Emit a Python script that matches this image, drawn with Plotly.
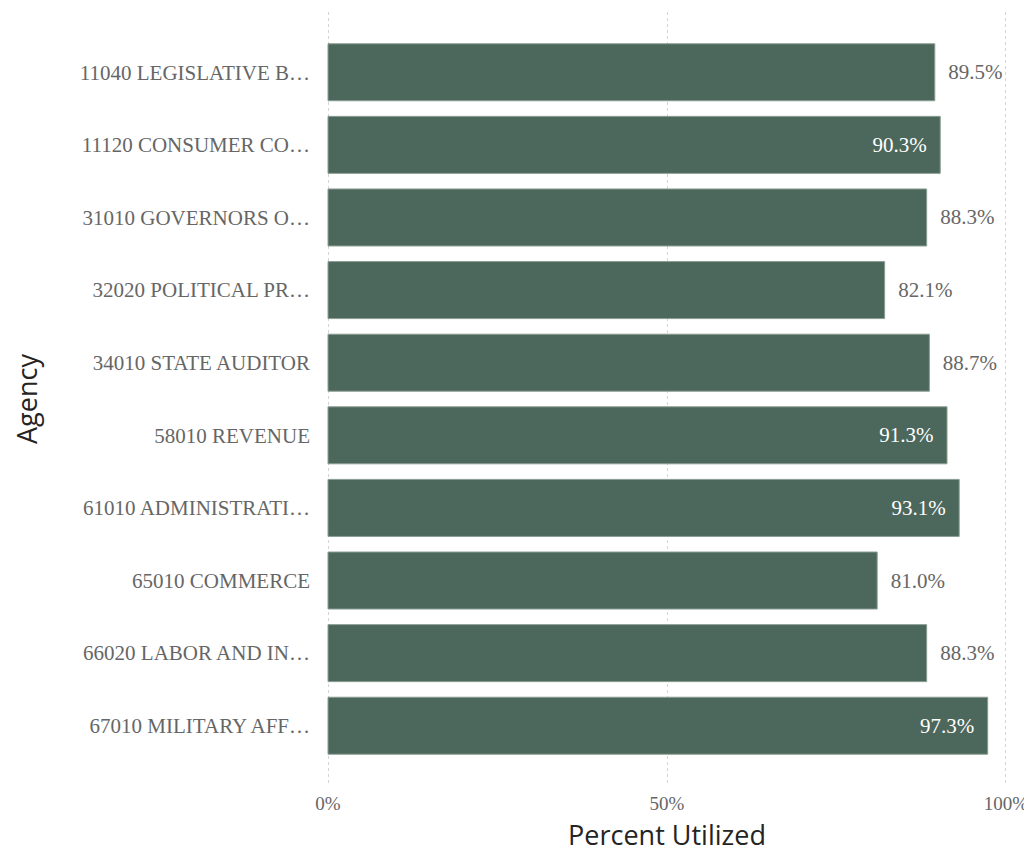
import plotly.graph_objects as go

agencies = [
    "11040 LEGISLATIVE B…",
    "11120 CONSUMER CO…",
    "31010 GOVERNORS O…",
    "32020 POLITICAL PR…",
    "34010 STATE AUDITOR",
    "58010 REVENUE",
    "61010 ADMINISTRATI…",
    "65010 COMMERCE",
    "66020 LABOR AND IN…",
    "67010 MILITARY AFF…",
]
percent_utilized = [89.5, 90.3, 88.3, 82.1, 88.7, 91.3, 93.1, 81.0, 88.3, 97.3]
label_positions = ["outside", "inside", "outside", "outside", "outside",
                   "inside", "inside", "outside", "outside", "inside"]
x_tick_vals = [0, 50, 100]
x_tick_text = ["0%", "50%", "100%"]

serif = "Liberation Serif, Times New Roman, serif"
sans = "Open Sans, Segoe UI, sans-serif"
grey = "#666666"
pad = "\u00a0\u00a0"

labels = []
for v, p in zip(percent_utilized, label_positions):
    t = f"{v:.1f}%"
    labels.append(pad + t if p == "outside" else t + pad)

fig = go.Figure(go.Bar(
    x=percent_utilized,
    y=agencies,
    orientation="h",
    marker=dict(color="#4C675B", line=dict(color="#8A9D93", width=1)),
    text=labels,
    textposition=label_positions,
    insidetextanchor="end",
    insidetextfont=dict(family=serif, size=21, color="white"),
    outsidetextfont=dict(family=serif, size=21, color=grey),
    cliponaxis=False,
    hoverinfo="skip",
))

fig.update_layout(
    width=1024, height=845,
    margin=dict(l=319, r=25, t=4, b=67, autoexpand=False),
    paper_bgcolor="white",
    plot_bgcolor="white",
    bargap=0.215,
    showlegend=False,
    uniformtext=dict(minsize=21, mode="show"),
    xaxis=dict(
        range=[-0.15, 100.15],
        tickvals=x_tick_vals,
        ticktext=x_tick_text,
        showgrid=True,
        gridcolor="#D4D4D4",
        griddash="dot",
        gridwidth=1,
        zeroline=False,
        showline=False,
        tickfont=dict(family=serif, size=19, color=grey),
        ticklabelstandoff=4,
        title=dict(text="Percent Utilized", font=dict(family=sans, size=27, color="#252423"), standoff=19),
    ),
    yaxis=dict(
        range=[9.83, -0.83],
        showgrid=False,
        showline=False,
        tickfont=dict(family=serif, size=21, color=grey),
        ticklabelstandoff=16,
        title=dict(text="Agency", font=dict(family=sans, size=27, color="#252423"), standoff=47),
    ),
)

fig.write_html("out.html")
